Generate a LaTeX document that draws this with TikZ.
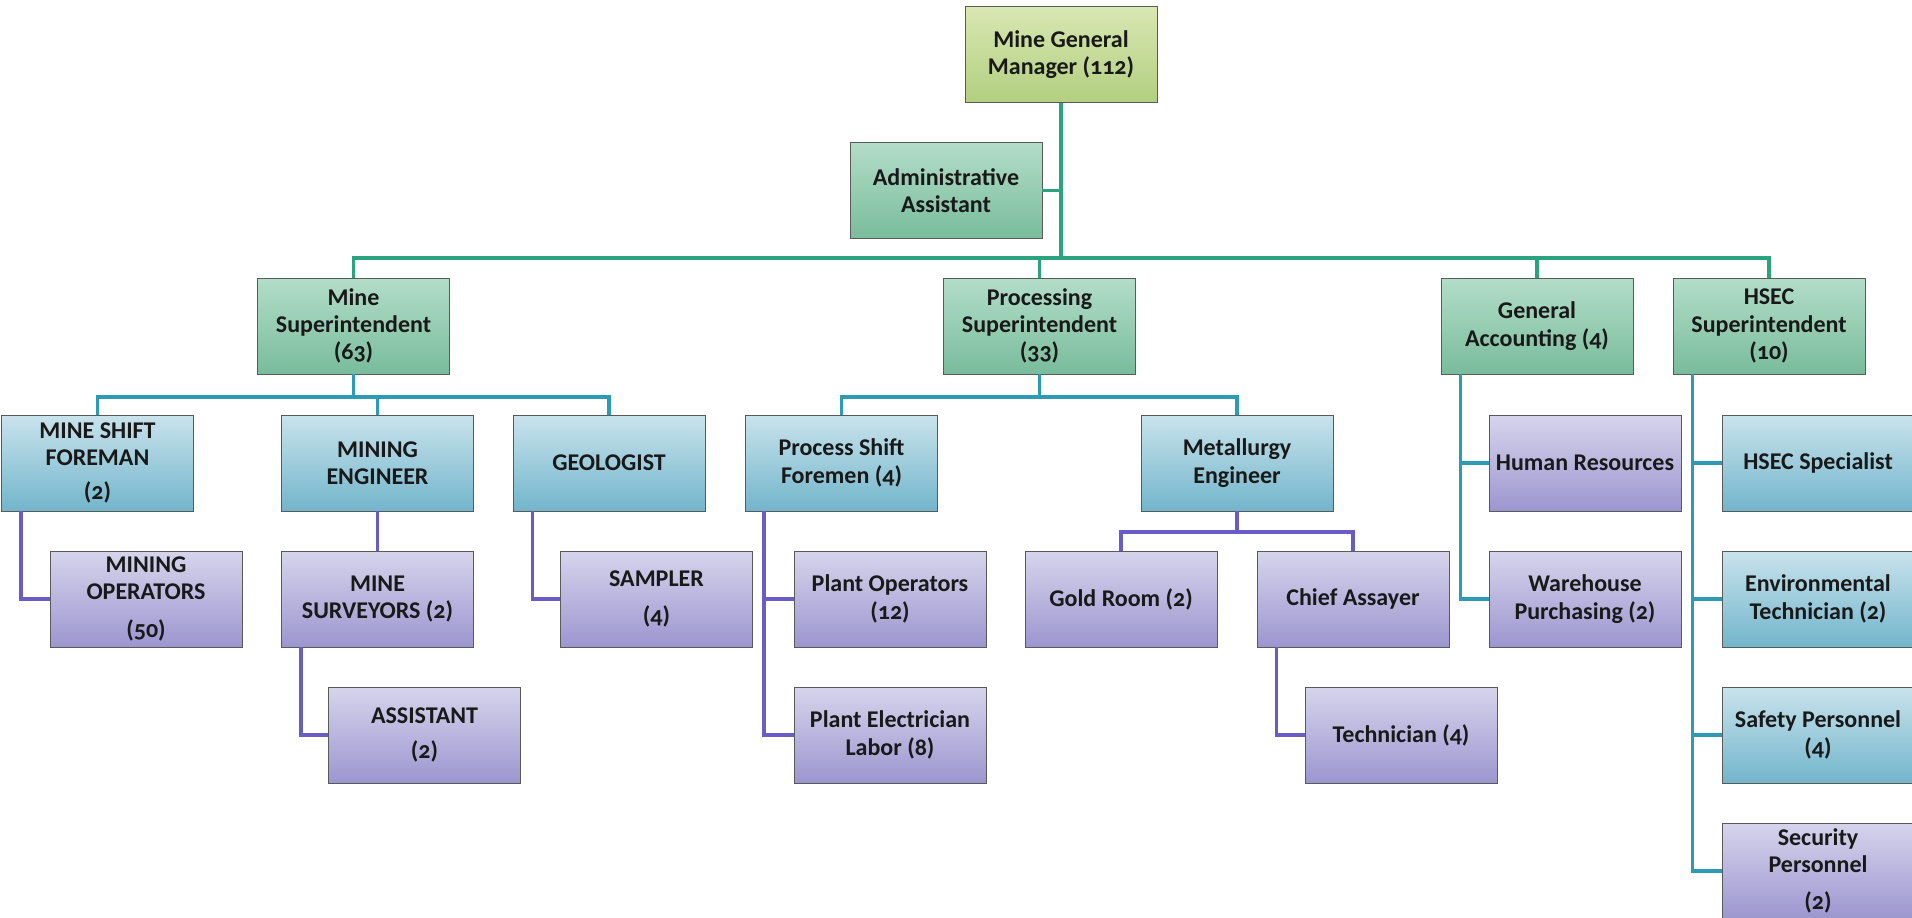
\documentclass[tikz,border=0pt]{standalone}
\usepackage{fontspec}
\setmainfont{Carlito}[Numbers=OldStyle]
\definecolor{lgreen}{HTML}{2BA37F}
\definecolor{lblue}{HTML}{2E9BB6}
\definecolor{lpurple}{HTML}{6A5CC6}
\definecolor{bordc}{HTML}{5A5A5A}
\definecolor{ttop}{HTML}{D9E7B2}\definecolor{tbot}{HTML}{B2CF80}
\definecolor{gtop}{HTML}{B3DDC9}\definecolor{gbot}{HTML}{79BC9C}
\definecolor{btop}{HTML}{C9E3EC}\definecolor{bbot}{HTML}{72B5CB}
\definecolor{ptop}{HTML}{D6D4EC}\definecolor{pbot}{HTML}{9C96CF}
\tikzset{
  box/.style={draw=bordc, line width=0.6pt, minimum width=144pt, minimum height=72pt,
    inner sep=1pt, align=center, font=\fontsize{18}{20.5}\selectfont\bfseries, text=black!90},
  topbox/.style={box, top color=ttop, bottom color=tbot},
  gbox/.style={box, top color=gtop, bottom color=gbot},
  bbox/.style={box, top color=btop, bottom color=bbot},
  pbox/.style={box, top color=ptop, bottom color=pbot},
  gline/.style={draw=lgreen, line width=2.6pt},
  bline/.style={draw=lblue, line width=2.6pt},
  pline/.style={draw=lpurple, line width=2.6pt},
}
\begin{document}
\begin{tikzpicture}[x=0.75pt, y=-0.75pt]
\useasboundingbox (0,0) rectangle (1912,917);
% level 0
\node[topbox] (mgm) at (1061,54.5) {Mine General\\Manager (112)};
\node[gbox] (admin) at (946,190.5) {Administrative\\Assistant};
% level 1
\node[gbox] (ms) at (353.5,326) {Mine\\Superintendent\\(63)};
\node[gbox] (ps) at (1039.5,326) {Processing\\Superintendent\\(33)};
\node[gbox] (ga) at (1537,326) {General\\Accounting (4)};
\node[gbox] (hsec) at (1769,326) {HSEC\\Superintendent\\(10)};
% level 2
\node[bbox] (msf) at (97.5,463) {MINE SHIFT\\FOREMAN\\[5pt](2)};
\node[bbox] (me) at (377.5,463) {MINING\\ENGINEER};
\node[bbox] (geo) at (609,463) {GEOLOGIST};
\node[bbox] (psf) at (841.5,463) {Process Shift\\Foremen (4)};
\node[bbox] (met) at (1237,463) {Metallurgy\\Engineer};
\node[pbox] (hr) at (1585,463) {Human Resources};
\node[bbox] (hspec) at (1818,463) {HSEC Specialist};
% level 3
\node[pbox] (mo) at (146,599) {MINING\\OPERATORS\\[8pt](50)};
\node[pbox] (msurv) at (377.5,599) {MINE\\SURVEYORS (2)};
\node[pbox] (samp) at (656.5,599) {SAMPLER\\[7pt](4)};
\node[pbox] (po) at (890,599) {Plant Operators\\(12)};
\node[pbox] (gold) at (1121,599) {Gold Room (2)};
\node[pbox] (chief) at (1353,599) {Chief Assayer};
\node[pbox] (wh) at (1585,599) {Warehouse\\Purchasing (2)};
\node[bbox] (env) at (1818,599) {Environmental\\Technician (2)};
% level 4
\node[pbox] (asst) at (424.5,735) {ASSISTANT\\[6pt](2)};
\node[pbox] (pe) at (890,735) {Plant Electrician\\Labor (8)};
\node[pbox] (tech) at (1401,735) {Technician (4)};
\node[bbox] (safe) at (1818,735) {Safety Personnel\\(4)};
% level 5
\node[pbox] (sec) at (1818,871) {Security\\Personnel\\[7pt](2)};

% top-level connectors
\path[gline] (mgm.south) -- (1061,258);
\path[gline] (admin.east) -- (admin.east -| mgm.south);
\path[gline] (ms.north) |- (1061,258) -| (hsec.north);
\path[gline] (ps.north) -- (1039.5,258);
\path[gline] (ga.north) -- (1537,258);
% mine superintendent
\path[bline] (ms.south) -- (353.5,397);
\path[bline] (msf.north) |- (353.5,397) -| (geo.north);
\path[bline] (me.north) -- (377.5,397);
% processing superintendent
\path[bline] (psf.north) |- (1039.5,397) -| (met.north);
\path[bline] (ps.south) -- (1039.5,397);
% metallurgy
\path[pline] (met.south) -- (1237,532);
\path[pline] (gold.north) |- (1237,532) -| (chief.north);
% purple elbows
\path[pline] ([xshift=15pt]msf.south west) |- (mo.west);
\path[pline] (me.south) -- (msurv.north);
\path[pline] ([xshift=15pt]msurv.south west) |- (asst.west);
\path[pline] ([xshift=15pt]geo.south west) |- (samp.west);
\path[pline] ([xshift=14pt]psf.south west) |- (po.west);
\path[pline] ([xshift=14pt]psf.south west) |- (pe.west);
\path[pline] ([xshift=15pt]chief.south west) |- (tech.west);
% accounting and HSEC
\path[bline] ([xshift=15pt]ga.south west) |- (hr.west);
\path[bline] ([xshift=15pt]ga.south west) |- (wh.west);
\path[bline] ([xshift=15pt]hsec.south west) |- (hspec.west);
\path[bline] ([xshift=15pt]hsec.south west) |- (env.west);
\path[bline] ([xshift=15pt]hsec.south west) |- (safe.west);
\path[bline] ([xshift=15pt]hsec.south west) |- (sec.west);
\end{tikzpicture}
\end{document}
